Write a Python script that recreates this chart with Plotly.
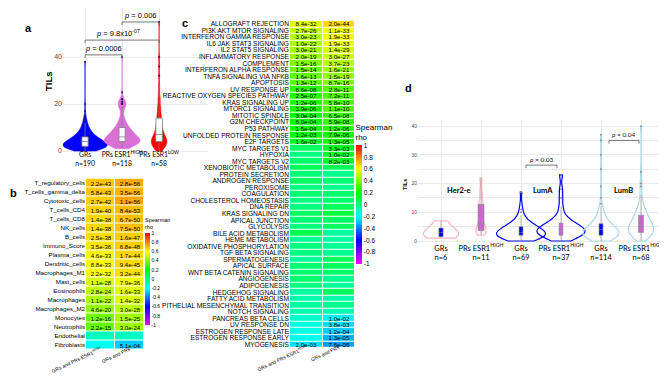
import numpy as np
import colorsys
import plotly.graph_objects as go

W, H = 667, 376
def px(x): return x / W
def py(y): return 1 - y / H

# ---------------- Panel a data (TILs distributions as value/count tables) ----------------
a_labels = ["GRs", "PRs ESR1<sup>HIGH</sup>", "PRs ESR1<sup>LOW</sup>"]
a_n = [190, 118, 58]
a_gr_vals = [0, 1, 2, 3, 4, 5, 6, 7, 8, 9, 10, 11, 12, 13, 14, 15, 17, 20, 38]
a_gr_cnts = [10, 25, 30, 28, 22, 18, 14, 10, 8, 6, 5, 3, 3, 2, 2, 1, 1, 1, 1]
a_prh_vals = [1, 2, 3, 4, 5, 6, 7, 8, 9, 10, 11, 12, 13, 14, 15, 16, 18, 19, 20, 21, 22, 25, 40]
a_prh_cnts = [4, 8, 12, 14, 13, 11, 9, 8, 6, 5, 4, 3, 2, 2, 1, 1, 2, 3, 3, 3, 2, 1, 1]
a_prl_vals = [0, 1, 2, 3, 4, 5, 6, 7, 8, 9, 10, 11, 12, 14, 15, 17, 19, 22, 25, 28, 32, 36, 40, 55]
a_prl_cnts = [2, 3, 4, 5, 5, 5, 4, 3, 3, 2, 2, 2, 2, 2, 2, 2, 2, 2, 1, 1, 1, 1, 1, 1]
a_pairs = [(0, 1), (0, 2), (1, 2)]
a_bracket_y = [40.9, 47.2, 54.9]
a_ptext = ["<i>p</i> = 0.0006", "<i>p</i> = 9.8x10<sup>-07</sup>", "<i>p</i> = 0.006"]
a_ptext_x = [0.5, 0.9, 1.5]

# ---------------- Panel b data ----------------
b_rows = ["T_regulatory_cells", "T_cells_gamma_delta", "Cytotoxic_cells", "T_cells_CD4", "T_cells_CD8",
          "NK_cells", "B_cells", "Immuno_Score", "Plasma_cells", "Dendritic_cells", "Macrophages_M1",
          "Mast_cells", "Eosinophils", "Macrophages", "Macrophages_M2", "Monocytes", "Neutrophils",
          "Endothelial", "Fibroblasts"]
b_cols = ["GRs and PRs ESR1<sup>HIGH</sup>", "GRs and PRs"]
b_rho1 = [0.69, 0.69, 0.68, 0.67, 0.66, 0.66, 0.65, 0.64, 0.61, 0.61, 0.60, 0.54, 0.50, 0.48, 0.44, 0.38, 0.36, -0.10, -0.18]
b_rho2 = [0.73, 0.72, 0.74, 0.71, 0.70, 0.70, 0.68, 0.68, 0.66, 0.66, 0.65, 0.58, 0.55, 0.54, 0.50, 0.46, 0.45, -0.10, -0.28]
b_p1 = ["2.2e-43", "5.8e-43", "2.7e-42", "1.9e-40", "1.4e-38", "1.4e-38", "2.5e-38", "3.5e-36", "4.6e-33",
        "8.8e-33", "2.2e-32", "1.1e-28", "2.8e-24", "1.1e-22", "4.6e-20", "1.2e-16", "2.2e-15", "", ""]
b_p2 = ["2.8e-56", "3.5e-56", "1.1e-56", "8.4e-53", "6.7e-50", "7.5e-50", "1.6e-47", "6.8e-48", "1.7e-44",
        "9.4e-45", "3.2e-44", "7.9e-36", "1.6e-33", "1.4e-32", "3.0e-28", "1.5e-25", "3.0e-24", "", "5.1e-04"]

# ---------------- Panel c data ----------------
c_rows = ["ALLOGRAFT REJECTION", "PI3K AKT MTOR SIGNALING", "INTERFERON GAMMA RESPONSE", "IL6 JAK STAT3 SIGNALING",
          "IL2 STAT5 SIGNALING", "INFLAMMATORY RESPONSE", "COMPLEMENT", "INTERFERON ALPHA RESPONSE",
          "TNFA SIGNALING VIA NFKB", "APOPTOSIS", "UV RESPONSE UP", "REACTIVE OXYGEN SPECIES PATHWAY",
          "KRAS SIGNALING UP", "MTORC1 SIGNALING", "MITOTIC SPINDLE", "G2M CHECKPOINT", "P53 PATHWAY",
          "UNFOLDED PROTEIN RESPONSE", "E2F TARGETS", "MYC TARGETS V1", "HYPOXIA", "MYC TARGETS V2",
          "XENOBIOTIC METABOLISM", "PROTEIN SECRETION", "ANDROGEN RESPONSE", "PEROXISOME", "COAGULATION",
          "CHOLESTEROL HOMEOSTASIS", "DNA REPAIR", "KRAS SIGNALING DN", "APICAL JUNCTION", "GLYCOLYSIS",
          "BILE ACID METABOLISM", "HEME METABOLISM", "OXIDATIVE PHOSPHORYLATION", "TGF BETA SIGNALING",
          "SPERMATOGENESIS", "APICAL SURFACE", "WNT BETA CATENIN SIGNALING", "ANGIOGENESIS", "ADIPOGENESIS",
          "HEDGEHOG SIGNALING", "FATTY ACID METABOLISM", "PITHELIAL MESENCHYMAL TRANSITION", "NOTCH SIGNALING",
          "PANCREAS BETA CELLS", "UV RESPONSE DN", "ESTROGEN RESPONSE LATE", "ESTROGEN RESPONSE EARLY", "MYOGENESIS"]
c_rho1 = [0.56, 0.50, 0.48, 0.47, 0.46, 0.44, 0.40, 0.37, 0.36, 0.35, 0.27, 0.26, 0.25, 0.24, 0.20, 0.19, 0.21,
          0.18, 0.14, 0.05, 0.00, 0.03, 0.06, 0.02, 0.05, 0.00, 0.02, 0.00, 0.00, 0.05, 0.02, 0.00, 0.08, -0.03,
          0.00, 0.00, -0.04, 0.02, 0.03, 0.03, 0.00, -0.06, -0.07, -0.05, -0.07, -0.12, -0.15, -0.16, -0.17, -0.24]
c_rho2 = [0.66, 0.57, 0.57, 0.57, 0.53, 0.51, 0.48, 0.45, 0.43, 0.39, 0.33, 0.32, 0.31, 0.32, 0.28, 0.28, 0.25,
          0.23, 0.22, 0.15, 0.13, 0.14, 0.06, -0.02, 0.02, -0.02, 0.03, 0.03, 0.06, 0.10, 0.04, 0.05, -0.05, -0.05,
          -0.03, -0.03, 0.06, 0.05, 0.04, -0.02, -0.04, 0.05, -0.07, -0.02, -0.08, -0.22, -0.25, -0.28, -0.32, -0.35]
c_p1 = ["8.4e-32", "2.7e-26", "3.0e-23", "1.0e-22", "3.0e-21", "2.0e-19", "1.5e-16", "1.5e-14", "1.6e-13",
        "1.3e-12", "8.6e-08", "2.5e-07", "1.2e-06", "3.9e-06", "3.0e-04", "6.0e-04", "1.5e-04", "1.2e-03",
        "1.6e-02"] + [""] * 30 + ["2.0e-03"]
c_p2 = ["2.0e-44", "1.1e-33", "1.9e-33", "1.9e-33", "1.4e-29", "3.0e-27", "3.7e-23", "1.6e-21", "1.5e-19",
        "8.7e-16", "2.8e-11", "7.2e-11", "5.8e-10", "1.1e-10", "6.5e-08", "5.9e-08", "1.2e-06", "7.9e-06",
        "1.3e-05", "3.3e-03", "1.0e-02", "8.2e-03"] + [""] * 23 + ["1.0e-02", "3.8e-03", "1.2e-04", "1.3e-05", "7.6e-06"]

# ---------------- Panel d data ----------------
d_labels = ["GRs", "PRs ESR1<sup>HIGH</sup>"] * 3
d_n = [6, 11, 69, 37, 114, 68]
d_subtypes = ["Her2-e", "LumA", "LumB"]
d_her2_gr_vals = [1, 1.5, 2.5, 3.5, 4.5, 7]
d_her2_pr_vals = [2, 3, 3.5, 4, 5, 6, 9, 12, 13, 17, 22]
d_lumA_gr_vals = [0, 1, 2, 3, 4, 5, 6, 7, 8, 9, 10, 11, 13, 17]
d_lumA_gr_cnts = [5, 10, 12, 11, 9, 7, 5, 3, 2, 1, 1, 1, 1, 1]
d_lumA_pr_vals = [0, 1, 2, 3, 4, 5, 6, 7, 8, 10, 12, 15, 18, 23]
d_lumA_pr_cnts = [2, 3, 5, 5, 6, 4, 3, 2, 2, 1, 1, 1, 1, 1]
d_lumB_gr_vals = [0, 1, 2, 3, 4, 5, 6, 7, 8, 9, 10, 11, 12, 13, 15, 19, 25, 30, 35, 37]
d_lumB_gr_cnts = [6, 14, 18, 17, 14, 11, 8, 6, 4, 3, 3, 2, 1, 1, 1, 1, 1, 1, 1, 1]
d_lumB_pr_vals = [0, 1, 2, 3, 4, 5, 6, 7, 8, 9, 10, 11, 12, 14, 16, 19, 20, 24, 40]
d_lumB_pr_cnts = [2, 4, 6, 8, 8, 7, 6, 5, 4, 4, 3, 2, 2, 2, 1, 1, 1, 1, 1]
d_pairs = [(2.125, 2.9), (4.2, 4.95)]
d_bracket_y = [26.4, 35.0]
d_ptext = ["<i>p</i> = 0.03", "<i>p</i> = 0.04"]

# ---------------- styles ----------------
ARIAL = "Liberation Sans, Arial, sans-serif"
CAL = "Lato, Carlito, sans-serif"

cs = []
for i in range(21):
    t = i / 20
    rho = -1 + 2 * t
    h = (150 - 150 * rho) / 360
    r, g, b = colorsys.hsv_to_rgb(h, 1, 1)
    cs.append([t, f"rgb({int(r*255)},{int(g*255)},{int(b*255)})"])

fig = go.Figure()

# ---------------- Panel a violins ----------------
a_data = [np.repeat(a_gr_vals, a_gr_cnts), np.repeat(a_prh_vals, a_prh_cnts), np.repeat(a_prl_vals, a_prl_cnts)]
a_colors = ["#0000ff", "#da70d6", "#ff0000"]
a_widths = [1.2, 0.97, 0.42]
a_boxw = [0.14, 0.17, 0.42]
for i in range(3):
    fig.add_trace(go.Violin(
        x0=i, y=a_data[i], width=a_widths[i], scalemode="width", spanmode="hard", bandwidth=1.3,
        fillcolor=a_colors[i], line=dict(color=a_colors[i], width=0.6), opacity=1,
        box=dict(visible=True, width=a_boxw[i], fillcolor="white", line=dict(color="#7f7f7f", width=0.8)),
        meanline=dict(visible=False), points="outliers", pointpos=0, jitter=0,
        marker=dict(size=2, color="#202060"), xaxis="x", yaxis="y", showlegend=False, hoverinfo="skip"))

for (i0, i1), yb in zip(a_pairs, a_bracket_y):
    fig.add_shape(type="path", xref="x", yref="y",
                  path=f"M {i0},{yb-1.3} L {i0},{yb} L {i1},{yb} L {i1},{yb-1.3}",
                  line=dict(color="#666666", width=0.9))
for xt, yb, t in zip(a_ptext_x, a_bracket_y, a_ptext):
    fig.add_annotation(x=xt, y=yb, xref="x", yref="y", text=t, showarrow=False, xanchor="center",
                       yanchor="bottom", font=dict(size=7.5, family=ARIAL, color="black"))

# ---------------- Panel b heatmap ----------------
fig.add_trace(go.Heatmap(
    z=np.column_stack([b_rho1, b_rho2]), x=[0, 1], y=list(range(len(b_rows))),
    text=[[p1, p2] for p1, p2 in zip(b_p1, b_p2)], texttemplate="%{text}",
    textfont=dict(size=6, color="black", family=ARIAL),
    colorscale=cs, zmin=-1, zmax=1, xgap=1, ygap=1, xaxis="x2", yaxis="y2", hoverinfo="skip",
    colorbar=dict(x=px(137), xanchor="left", y=py(262), yanchor="middle", len=110 / H, lenmode="fraction",
                  thickness=5, thicknessmode="pixels", outlinewidth=0, xpad=0, ypad=0, ticks="",
                  tickvals=[1, 0.8, 0.6, 0.4, 0.2, 0, -0.2, -0.4, -0.6, -0.8, -1],
                  ticktext=["1", "0.8", "0.6", "0.4", "0.2", "0", "-0.2", "-0.4", "-0.6", "-0.8", "-1"],
                  tickfont=dict(size=5, family=ARIAL),
                  title=dict(text="Spearman<br>rho", side="top", font=dict(size=5.5, family=ARIAL)))))

# ---------------- Panel c heatmap ----------------
fig.add_trace(go.Heatmap(
    z=np.column_stack([c_rho1, c_rho2]), x=[0, 1], y=list(range(len(c_rows))),
    text=[[p1, p2] for p1, p2 in zip(c_p1, c_p2)], texttemplate="%{text}",
    textfont=dict(size=6.2, color="black", family=ARIAL),
    colorscale=cs, zmin=-1, zmax=1, xgap=1, ygap=1, xaxis="x3", yaxis="y3", hoverinfo="skip",
    colorbar=dict(x=px(347.5), xanchor="left", y=py(184.5), yanchor="middle", len=143 / H, lenmode="fraction",
                  thickness=6, thicknessmode="pixels", outlinewidth=0, xpad=0, ypad=0, ticks="",
                  tickvals=[1, 0.8, 0.6, 0.4, 0.2, 0, -0.2, -0.4, -0.6, -0.8, -1],
                  ticktext=["1", "0.8", "0.6", "0.4", "0.2", "0", "-0.2", "-0.4", "-0.6", "-0.8", "-1"],
                  tickfont=dict(size=6.5, family=ARIAL),
                  title=dict(text="Spearman<br>rho", side="top", font=dict(size=8, family=ARIAL)))))

# ---------------- Panel d violins ----------------
d_data = [np.array(d_her2_gr_vals), np.array(d_her2_pr_vals),
          np.repeat(d_lumA_gr_vals, d_lumA_gr_cnts), np.repeat(d_lumA_pr_vals, d_lumA_pr_cnts),
          np.repeat(d_lumB_gr_vals, d_lumB_gr_cnts), np.repeat(d_lumB_pr_vals, d_lumB_pr_cnts)]
d_line = ["#ffb6c1", "#ffb6c1", "#0000ff", "#0000ff", "#add8e6", "#add8e6"]
d_boxfill = ["#0000ff", "#cc66cc"] * 3
d_widths = [0.88, 0.25, 1.22, 1.2, 0.9, 0.63]
d_boxw = [0.12, 0.6, 0.08, 0.08, 0.11, 0.2]
d_bw = [1.6, 1.6, 1.4, 1.5, 1.6, 1.8]
for i in range(6):
    fig.add_trace(go.Violin(
        x0=i, y=d_data[i], width=d_widths[i], scalemode="width", spanmode="hard", bandwidth=d_bw[i],
        fillcolor="rgba(255,255,255,0)", line=dict(color=d_line[i], width=1.2),
        box=dict(visible=True, width=d_boxw[i], fillcolor=d_boxfill[i], line=dict(color="#888888", width=0.6)),
        meanline=dict(visible=False), points="outliers", pointpos=0, jitter=0,
        marker=dict(size=1.8, color="#888888"), xaxis="x4", yaxis="y4", showlegend=False, hoverinfo="skip"))

for (x0, x1), yb in zip(d_pairs, d_bracket_y):
    fig.add_shape(type="path", xref="x4", yref="y4",
                  path=f"M {x0},{yb-1.1} L {x0},{yb} L {x1},{yb} L {x1},{yb-1.1}",
                  line=dict(color="#555555", width=0.8))
for (x0, x1), yb, t in zip(d_pairs, d_bracket_y, d_ptext):
    fig.add_annotation(x=(x0 + x1) / 2, y=yb, xref="x4", yref="y4", text=t, showarrow=False, xanchor="center",
                       yanchor="bottom", font=dict(size=6.5, family=CAL, color="#222222"))
for xs, t in zip([0.45, 2.55, 4.55], d_subtypes):
    fig.add_annotation(x=xs, y=17.4, xref="x4", yref="y4", text=f"<b>{t}</b>", showarrow=False,
                       xanchor="center", yanchor="middle", font=dict(size=7.5, family=CAL, color="black"))

# ---------------- panel letters & axis titles ----------------
for lab, (lx, ly) in zip("abcd", [(20, 20), (5, 185), (177, 15), (400, 80)]):
    fig.add_annotation(x=px(lx), y=py(ly), xref="paper", yref="paper", text=f"<b>{lab}</b>", showarrow=False,
                       xanchor="center", yanchor="middle", font=dict(size=11, family=ARIAL, color="black"))
fig.add_annotation(x=px(40), y=py(73), xref="paper", yref="paper", text="<b>TILs</b>", textangle=-90,
                   xanchor="center", yanchor="middle", showarrow=False,
                   font=dict(size=9.5, family=ARIAL, color="black"))
fig.add_annotation(x=px(397), y=py(177), xref="paper", yref="paper", text="<b>TILs</b>", textangle=-90,
                   xanchor="center", yanchor="middle", showarrow=False,
                   font=dict(size=5.5, family=ARIAL, color="black"))

grid = "#ebebeb"
fig.update_layout(
    width=W, height=H, margin=dict(l=0, r=0, t=0, b=0), template="none",
    paper_bgcolor="white", plot_bgcolor="white", violinmode="overlay", showlegend=False,
    font=dict(family=ARIAL, color="black"),
    xaxis=dict(domain=[px(55), px(200)], range=[-0.595, 3.32], tickvals=[0, 1, 2], tickangle=0,
               ticktext=[f"{l}<br>n={n}" for l, n in zip(a_labels, a_n)], ticklabelstandoff=-4,
               tickfont=dict(size=6.8, family=CAL, color="black"), showgrid=True, gridcolor=grid, gridwidth=0.8,
               zeroline=False, showline=False, ticks="", automargin=False, anchor="y"),
    yaxis=dict(domain=[py(145), 1], range=[-0.85, 60.85], tickvals=[0, 20, 40],
               tickfont=dict(size=7, color="#4d4d4d", family=ARIAL), showgrid=True, gridcolor=grid, gridwidth=0.8,
               zeroline=False, showline=False, ticks="", automargin=False, anchor="x"),
    xaxis2=dict(domain=[px(78), px(136)], range=[-0.5, 1.5], tickvals=[0, 1], ticktext=b_cols, tickangle=-25,
                tickfont=dict(size=5, family=ARIAL), showgrid=False, zeroline=False, showline=False, ticks="",
                ticklabelstandoff=-5, automargin=False, anchor="y2"),
    yaxis2=dict(domain=[py(341.5), py(170.5)], range=[len(b_rows) - 0.5, -0.5], tickvals=list(range(len(b_rows))),
                ticktext=b_rows, tickfont=dict(size=6.2, family=ARIAL), showgrid=False, zeroline=False,
                showline=False, ticks="", automargin=False, anchor="x2"),
    xaxis3=dict(domain=[px(282), px(347)], range=[-0.5, 1.5], tickvals=[0, 1], ticktext=b_cols, tickangle=-25,
                tickfont=dict(size=5, family=ARIAL), showgrid=False, zeroline=False, showline=False, ticks="",
                ticklabelstandoff=-5, automargin=False, anchor="y3"),
    yaxis3=dict(domain=[py(339.8), py(12.7)], range=[len(c_rows) - 0.5, -0.5], tickvals=list(range(len(c_rows))),
                ticktext=c_rows, tickfont=dict(size=6.6, family=ARIAL), showgrid=False, zeroline=False,
                showline=False, ticks="", automargin=False, anchor="x3"),
    xaxis4=dict(domain=[px(410), px(658)], range=[-0.575, 5.625], tickvals=list(range(6)), tickangle=0,
                ticktext=[f"{l}<br>n={n}" for l, n in zip(d_labels, d_n)], ticklabelstandoff=-4,
                tickfont=dict(size=7.5, family=CAL, color="black"), showgrid=True, gridcolor=grid, gridwidth=0.8,
                zeroline=False, showline=False, ticks="", automargin=False, anchor="y4"),
    yaxis4=dict(domain=[py(238), py(112)], range=[-1.74, 42.1], tickvals=[0, 10, 20, 30, 40],
                tickfont=dict(size=5, color="#4d4d4d", family=ARIAL), showgrid=True, gridcolor=grid,
                gridwidth=0.8, zeroline=False, showline=False, ticks="", automargin=False, anchor="x4",
                minor=dict(tickvals=[5, 15, 25, 35], showgrid=True, gridcolor=grid, gridwidth=0.8)),
)

fig.write_html("out.html")
